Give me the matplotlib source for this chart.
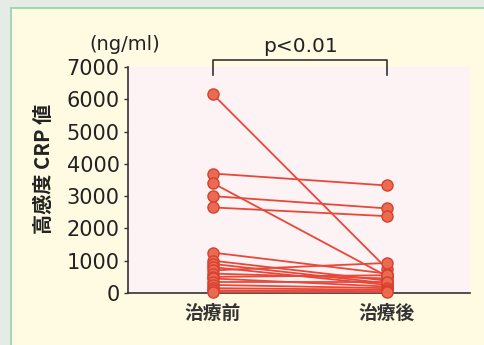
import matplotlib.pyplot as plt
from matplotlib.patches import Rectangle

# paired CRP values (ng/ml), before / after treatment
before = [6150, 3700, 3400, 3000, 2650, 1250, 1000, 900, 800, 700, 600, 500, 450, 350, 250, 150, 80, 30]
after = [750, 3330, 520, 2620, 2380, 600, 380, 300, 250, 930, 450, 550, 200, 350, 150, 100, 60, 30]
categories = ['治療前', '治療後']
yticks = [0, 1000, 2000, 3000, 4000, 5000, 6000, 7000]

plt.rcParams['font.family'] = ['DejaVu Sans', 'Noto Sans CJK JP']

fig = plt.figure(figsize=(4.84, 3.45), dpi=100)
fig.patch.set_facecolor('#e5ebe5')
# cream panel with green border
panel = Rectangle((11 / 484, -0.01), 1, 1 - 8 / 345 + 0.01, transform=fig.transFigure,
                  facecolor='#fffbe2', edgecolor='#8fd6a8', lw=1.2, zorder=-10)
fig.patches.append(panel)

ax = fig.add_axes([128 / 484, 1 - 293 / 345, 342 / 484, 226 / 345])
ax.set_zorder(1)
ax.set_facecolor('#fdf2f4')

line_c = '#e8483a'
for b, a in zip(before, after):
    ax.plot([0, 1], [b, a], color=line_c, lw=1.3, marker='o', ms=8,
            mfc='#ea6a52', mec='#d8402e', mew=1, clip_on=False, zorder=3)

ax.set_xlim(-0.489, 1.477)
ax.set_ylim(0, 7000)
ax.set_yticks(yticks)
ax.set_yticklabels([str(v) for v in yticks], fontsize=15, color='#222222')
ax.set_xticks([0, 1])
ax.set_xticklabels(categories, family=['Noto Sans CJK JP'], fontsize=13.5,
                   fontweight='bold', color='#333333')
ax.tick_params(axis='y', length=3, width=1, pad=3, color='#333333')
ax.tick_params(axis='x', length=0, pad=8)

for s in ['top', 'right']:
    ax.spines[s].set_visible(False)
for s in ['left', 'bottom']:
    ax.spines[s].set_color('#333333')
    ax.spines[s].set_linewidth(1.2)

# significance bracket
ax.plot([0, 0, 1, 1], [6750, 7220, 7220, 6750], color='#333333', lw=1.2, clip_on=False)
ax.text(0.5, 7330, 'p<0.01', ha='center', va='bottom', fontsize=14.5, color='#222222')

fig.text(125 / 484, 1 - 44 / 345, '(ng/ml)', ha='center', va='center', fontsize=14, color='#222222')
fig.text(43 / 484, 1 - 169 / 345, '高感度 CRP 値', rotation=90, ha='center', va='center',
         family=['Noto Sans CJK JP', 'DejaVu Sans'], fontsize=14.5, fontweight='bold',
         color='#222222')

fig.savefig('out.png', dpi=100, facecolor=fig.get_facecolor())
